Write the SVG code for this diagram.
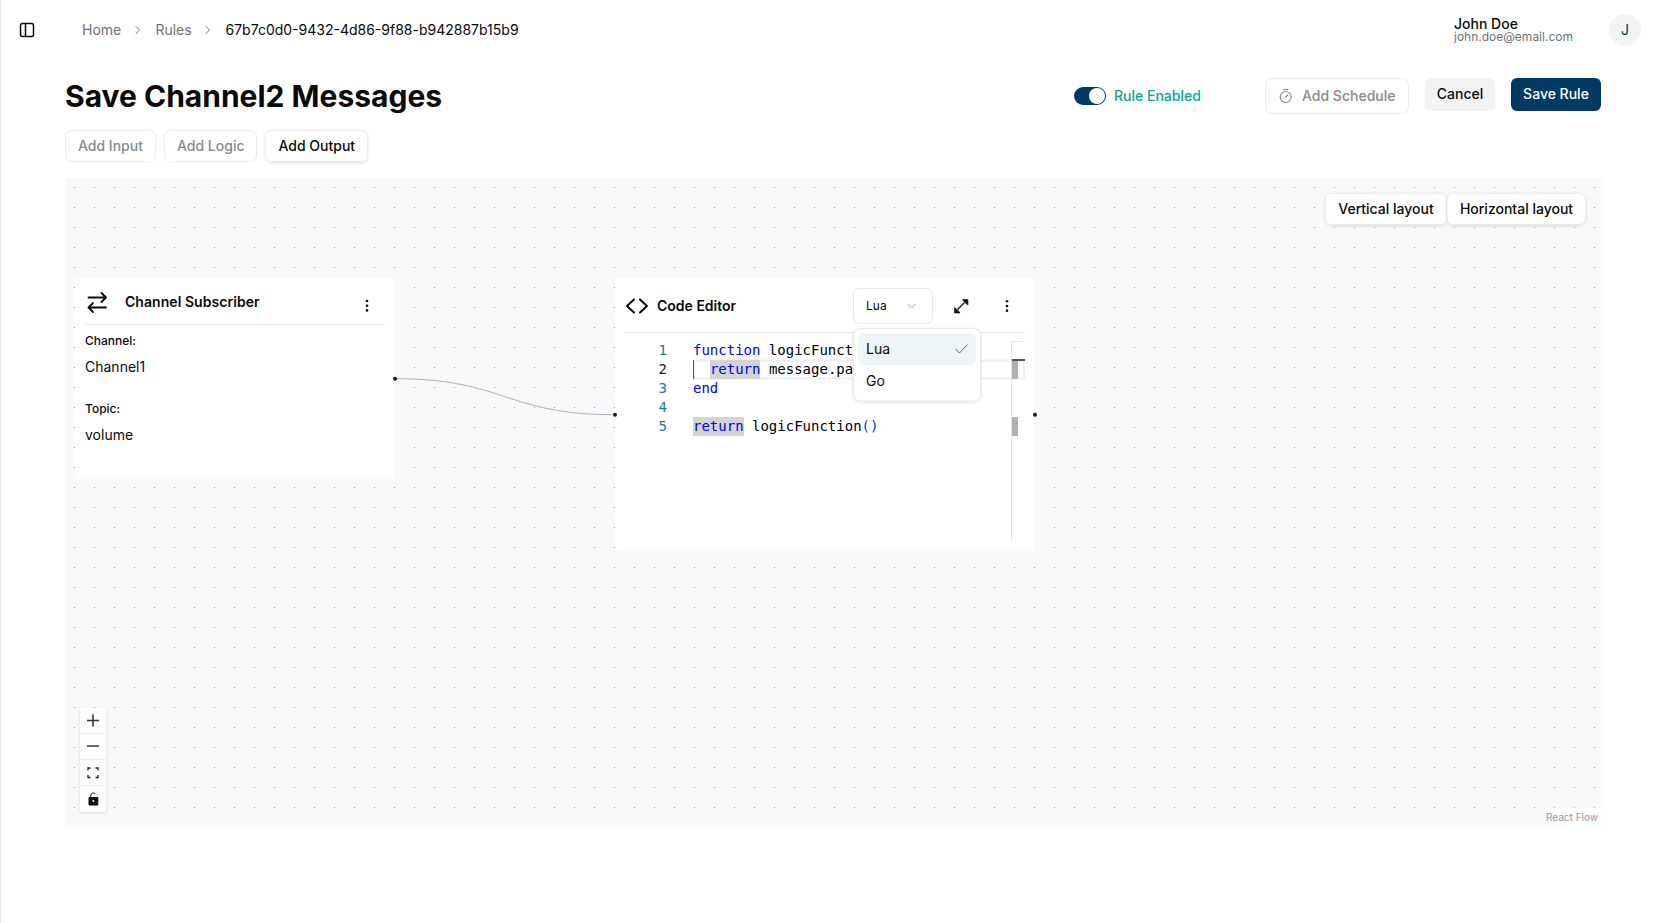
<svg xmlns="http://www.w3.org/2000/svg" width="1663" height="923" viewBox="0 0 1663 923">
<style>
text{font-family:Inter,"Noto Sans","Liberation Sans",sans-serif;font-size:14px;fill:#0a0a0a}
.m{font-weight:500}
.sb{font-weight:600}
.gray{fill:#8a8a8a}
.mono{font-family:"DejaVu Sans Mono","Liberation Mono",monospace;font-size:14px;white-space:pre;fill:#000}
.kw{fill:#0000ff}
.ln{fill:#237893;text-anchor:end}
.btn{fill:#fff;stroke:#ececec;stroke-width:1}
.ic{fill:none;stroke:#0a0a0a;stroke-width:1.5;stroke-linecap:round;stroke-linejoin:round}
.handle{fill:#1a192b}
.divider{stroke:#e5e5e5;stroke-width:1}
</style>
<defs>
<pattern id="dots" x="14" y="7" width="20" height="20" patternUnits="userSpaceOnUse"><rect width="1" height="1" fill="#9c9ca4"/></pattern>
<filter id="sh" x="-20%" y="-20%" width="140%" height="140%"><feDropShadow dx="0" dy="1" stdDeviation="1.5" flood-color="#000" flood-opacity="0.12"/></filter>
</defs>
<rect width="1663" height="923" fill="#fff"/>
<line x1="0.5" y1="0" x2="0.5" y2="923" stroke="#e5e5e5"/>

<g id="header">
<rect class="ic" x="20.5" y="23.5" width="13" height="13" rx="2" stroke-width="1.4"/><line class="ic" x1="25.5" y1="23.5" x2="25.5" y2="36.5" stroke-width="1.4"/>
<text x="82" y="35" style="fill:#71717a">Home</text>
<path class="ic" d="M136 26.5l3.5 3.5l-3.5 3.5" style="stroke:#71717a;stroke-width:1"/>
<text x="155.400" y="35" style="fill:#71717a">Rules</text>
<path class="ic" d="M206 26.5l3.500 3.500l-3.500 3.500" style="stroke:#71717a;stroke-width:1"/>
<text x="225.500" y="35">67b7c0d0-9432-4d86-9f88-b942887b15b9</text>
<text class="m" x="1454" y="29">John Doe</text>
<text x="1454" y="41" style="font-size:12px;fill:#71717a">john.doe@email.com</text>
<circle cx="1625" cy="30" r="16" fill="#f4f4f5"/>
<text x="1625" y="35" text-anchor="middle" style="fill:#003a63">J</text>
</g>

<g id="title">
<text x="65" y="107" style="font-size:30px;font-weight:700">Save Channel2 Messages</text>
</g>

<g id="toolbar">
<rect class="btn" x="65.500" y="130.500" width="90" height="31" rx="6"/><text class="m gray" x="78" y="151">Add Input</text>
<rect class="btn" x="164.500" y="130.500" width="92" height="31" rx="6"/><text class="m gray" x="177" y="151">Add Logic</text>
<rect class="btn" x="265.500" y="130.500" width="102" height="31" rx="6" filter="url(#sh)"/><text class="m" x="278.500" y="151">Add Output</text>
<rect x="1074" y="87" width="32" height="18" rx="9" fill="#003a63"/><circle cx="1097" cy="96" r="8" fill="#fff"/>
<text class="m" x="1114" y="101" style="fill:#00a896">Rule Enabled</text>
<rect class="btn" x="1265.500" y="78.500" width="143" height="35" rx="6"/>
<g fill="none" stroke="#8a8a8a" stroke-width="1.200" stroke-linecap="round"><circle cx="1285.700" cy="97" r="5.500"/><line x1="1283.500" y1="89.500" x2="1288" y2="89.500"/><line x1="1285.700" y1="97" x2="1287.500" y2="95"/></g>
<text class="m gray" x="1302" y="101">Add Schedule</text>
<rect x="1425" y="78" width="70" height="33" rx="6" fill="#f4f4f5"/><text class="m" x="1460" y="98.500" text-anchor="middle">Cancel</text>
<rect x="1511" y="78" width="90" height="33" rx="6" fill="#003a63"/><text class="m" x="1556" y="98.500" text-anchor="middle" style="fill:#fff">Save Rule</text>
</g>

<g id="canvas">
<rect x="65" y="178" width="1536" height="649" fill="#f7f9fb"/>
<rect x="65" y="178" width="1536" height="649" fill="url(#dots)"/>
<rect class="btn" x="1325.500" y="193.500" width="121" height="31" rx="6" filter="url(#sh)"/><text class="m" x="1386" y="214" text-anchor="middle">Vertical layout</text>
<rect class="btn" x="1447.500" y="193.500" width="138" height="31" rx="6" filter="url(#sh)"/><text class="m" x="1516.500" y="214" text-anchor="middle">Horizontal layout</text>
</g>

<g id="connectors">
<path d="M395 378.700C505 378.700 505 414.700 615 414.700" fill="none" stroke="#b1b1b7" stroke-width="1"/>
</g>

<g id="node-channel-subscriber">
<rect x="75" y="278" width="320" height="201" rx="3" fill="#fff"/>
<path class="ic" d="M88.500 297.500H106M101.500 293l4.500 4.500l-4.500 4.500M106 307.500H88.500M93 303l-4.500 4.500l4.500 4.500" style="stroke-width:1.800"/>
<text class="sb" x="125" y="307" style="font-weight:600;letter-spacing:0.05px">Channel Subscriber</text>
<g fill="#0a0a0a"><circle cx="367" cy="301" r="1.300"/><circle cx="367" cy="305.700" r="1.300"/><circle cx="367" cy="310.400" r="1.300"/></g>
<line class="divider" x1="85" y1="324.500" x2="385" y2="324.500"/>
<text class="m" x="85" y="345" style="font-size:12px">Channel:</text>
<text x="85" y="372">Channel1</text>
<text class="m" x="85" y="413" style="font-size:12px">Topic:</text>
<text x="85" y="440">volume</text>
<circle class="handle" cx="395" cy="378.700" r="2"/>
</g>

<g id="node-code-editor">
<rect x="615" y="278" width="420" height="273" rx="3" fill="#fff"/>
<circle class="handle" cx="615" cy="414.700" r="2"/><circle class="handle" cx="1035" cy="414.700" r="2"/>
<path class="ic" d="M634 299.500l-7 6.500l7 6.500M640 299.500l7 6.500l-7 6.500" style="stroke-width:2"/>
<text class="sb" x="657" y="311">Code Editor</text>
<path d="M957.500 309.500l7-7" fill="none" stroke="#111" stroke-width="1.300"/>
<path d="M962.500 299.500h5.500v5.500l-1.800-1.200l-2.500-2.500zM954.500 313v-5.500l1.800 1.200l2.500 2.500l1.200 1.800z" fill="#111" stroke="#111" stroke-width="0.600"/>
<g fill="#0a0a0a"><circle cx="1007" cy="301.300" r="1.300"/><circle cx="1007" cy="306" r="1.300"/><circle cx="1007" cy="310.700" r="1.300"/></g>
<line class="divider" x1="625" y1="332.500" x2="1025" y2="332.500"/>
<rect x="853.500" y="288.500" width="79" height="35" rx="6" fill="#fff" stroke="#e8e8e8"/>
<text x="866" y="310" style="font-size:12px">Lua</text>
<path d="M907.500 304l4 4l4-4" fill="none" stroke="#a3a3a3" stroke-width="1"/>

<rect x="694" y="360.500" width="330" height="18" fill="none" stroke="#eeeeee" stroke-width="2"/>
<rect x="710" y="360" width="50" height="19" fill="#d4d4d4"/>
<rect x="693" y="417" width="51" height="19" fill="#d4d4d4"/>
<line x1="693.500" y1="360" x2="693.500" y2="379" stroke="#555"/>
<text class="mono ln" x="667" y="355">1</text>
<text class="mono ln" x="667" y="374" style="fill:#0b216f">2</text>
<text class="mono ln" x="667" y="393">3</text>
<text class="mono ln" x="667" y="412">4</text>
<text class="mono ln" x="667" y="431">5</text>
<text class="mono" x="693" y="355"><tspan class="kw">function</tspan> logicFunct</text>
<text class="mono" x="709.900" y="374"><tspan class="kw">return</tspan> message.pa</text>
<text class="mono kw" x="693" y="393">end</text>
<text class="mono" x="693" y="431"><tspan class="kw">return</tspan> logicFunction<tspan style="fill:#0431fa">()</tspan></text>

<line x1="1011.500" y1="341" x2="1011.500" y2="541" stroke="#e5e5e5"/>
<line x1="1011.500" y1="341.500" x2="1025" y2="341.500" stroke="#e5e5e5"/>
<rect x="1012" y="361" width="6" height="18" fill="#b0b0b0"/>
<rect x="1012" y="417" width="6" height="19" fill="#b0b0b0"/>
<rect x="1012" y="359" width="13" height="2" fill="#555"/>

<rect x="853.500" y="328.500" width="127" height="72.500" rx="7" fill="#fff" stroke="#e8e8e8" filter="url(#sh)"/>
<rect x="858" y="333" width="118" height="32" rx="6" fill="#eef5f9"/>
<text x="866" y="354">Lua</text>
<path d="M955.500 349l4 4l8-8.500" fill="none" stroke="#666" stroke-width="1"/>
<text x="866" y="386">Go</text>
</g>

<g id="zoom-controls">
<rect x="80" y="708" width="26" height="104" fill="#fefefe" filter="url(#sh)"/>
<g stroke="#eeeeee"><line x1="80" y1="733.500" x2="106" y2="733.500"/><line x1="80" y1="759.500" x2="106" y2="759.500"/><line x1="80" y1="785.500" x2="106" y2="785.500"/></g>
<path d="M87 720.500h12M93 714.500v12M87 746h12" stroke="#333" stroke-width="1.600" fill="none"/>
<path d="M88 770.500v-2.500h2.500M95.500 768h2.500v2.500M98 775v2.500h-2.500M90.500 777.500h-2.500v-2.500" stroke="#222" stroke-width="1.300" fill="none"/>
<path d="M89 797.500h8.800v7.500h-8.800z" fill="#111" stroke="#111" stroke-width="1"/>
<path d="M90.800 797v-1.800a2.600 2.600 0 0 1 4.400-1.500" fill="none" stroke="#111" stroke-width="1"/>
<circle cx="93.400" cy="801" r="1" fill="#fff"/>
</g>

<g id="attribution">
<rect x="1542.500" y="807.500" width="58.500" height="19.200" fill="#fff" fill-opacity="0.5"/>
<text x="1546" y="821" style="font-size:10px;fill:#999">React Flow</text>
</g>
</svg>
